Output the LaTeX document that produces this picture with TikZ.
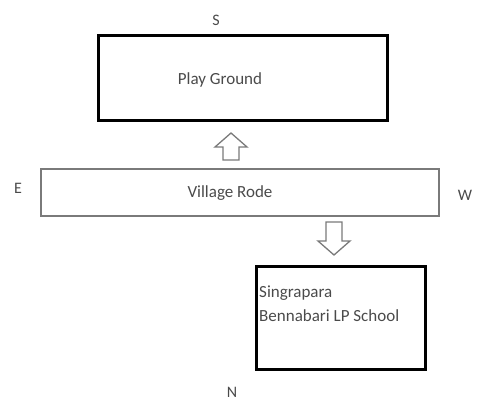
\documentclass[tikz,border=0pt]{standalone}
\usepackage{fontspec}
\setmainfont{Carlito}
\usepackage{xcolor}
\usepackage{tikz}
\usetikzlibrary{positioning}

\definecolor{txtgray}{HTML}{4A4A4A}
\definecolor{roadgray}{HTML}{7A7A7A}
\tikzset{
	thickbox/.style={draw=black,line width=3pt,minimum width=#1,inner sep=0pt},
	roadbox/.style={draw=roadgray,line width=1.5pt,inner sep=0pt},
	txt/.style={text=txtgray,font=\fontsize{17}{24}\selectfont,inner sep=0pt},
	dirtxt/.style={text=txtgray,font=\fontsize{16}{19}\selectfont,inner sep=0pt},
	arrowline/.style={draw=roadgray,line width=1.3pt,line join=miter,fill=white},
	blockarrow/.pic={\draw[arrowline] (0,0) -- (-16,14) -- (-8,14) -- (-8,#1) -- (8,#1) -- (8,14) -- (16,14) -- cycle;}
}

\begin{document}
\begin{tikzpicture}[x=1pt,y=-1pt]
	\useasboundingbox (0,0) rectangle (480,405);
	% play ground
	\node[thickbox=289pt,minimum height=85pt] (ground) at (242.5,77.5) {};
	\node[txt] (groundtxt) at (220,80) {Play Ground};
	\node[dirtxt] (south) at (216,20) {S};
	% road
	\node[roadbox,minimum width=398pt,minimum height=47pt] (road) at (240,192.5) {};
	\node[txt] (roadtxt) at (230,193) {Village Rode};
	\node[dirtxt] (east) at (18,188) {E};
	\node[dirtxt] (west) at (465,195) {W};
	% arrows
	\pic (uparrow) at (231,133) {blockarrow=27};
	\pic[rotate=180] (downarrow) at (334,255) {blockarrow=33};
	% school
	\node[thickbox=169pt,minimum height=103pt] (school) at (340.5,317.5) {};
	\node[txt,anchor=west,align=left] (schooltxt) at (259,304) {Singrapara\\Bennabari LP School};
	\node[dirtxt] (north) at (232,392) {N};
\end{tikzpicture}
\end{document}
